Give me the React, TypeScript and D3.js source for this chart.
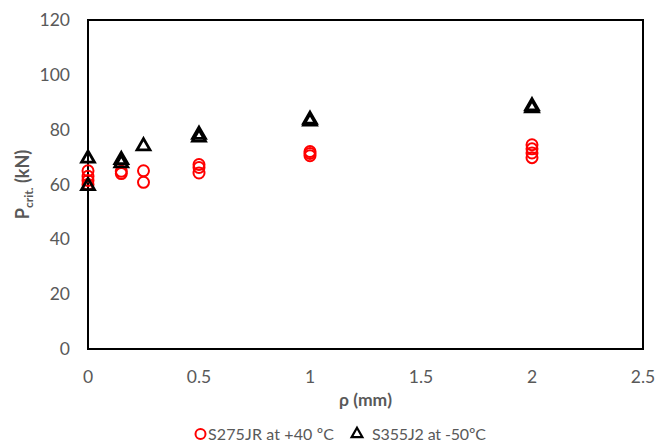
import React from "react";
import * as d3 from "d3";

const xTicks = [0, 0.5, 1, 1.5, 2, 2.5];
const yTicks = [0, 20, 40, 60, 80, 100, 120];

const s275X = [0, 0, 0, 0, 0.15, 0.15, 0.25, 0.25, 0.5, 0.5, 0.5, 1, 1, 1, 2, 2, 2, 2];
const s275Y = [65, 63, 61.5, 60, 64.8, 64, 65, 60.8, 67.3, 66.2, 64.2, 72, 71.3, 70.5, 74.5, 73, 71.5, 69.8];

const s355X = [0, 0, 0.15, 0.15, 0.25, 0.5, 0.5, 1, 1, 2, 2];
const s355Y = [69.5, 59.5, 69, 67.8, 74, 78.2, 77.2, 83.7, 83, 88.6, 87.9];

const W = 657, H = 443;
const M = { left: 88, right: 643, top: 20, bottom: 349 };

export default function App() {
  const x = d3.scaleLinear().domain([0, 2.5]).range([M.left, M.right]);
  const y = d3.scaleLinear().domain([0, 120]).range([M.bottom, M.top]);
  const font = "Lato, 'Open Sans', sans-serif";
  const tri = d3.symbol().type(d3.symbolTriangle).size(72)();
  return (
    <svg width={W} height={H} style={{ position: "absolute", left: 0, top: 0, background: "#fff" }}>
      <rect x={0} y={0} width={W} height={H} fill="#fff" />
      <rect x={M.left} y={M.top} width={M.right - M.left} height={M.bottom - M.top} fill="none" stroke="#000" strokeWidth={2} />
      {yTicks.map((t) => (
        <text key={"y" + t} x={70} y={y(t)} dy="0.35em" textAnchor="end" fontFamily={font} fontSize={17.5} fill="#595959">{t}</text>
      ))}
      {xTicks.map((t) => (
        <text key={"x" + t} x={x(t)} y={377} dy="0.35em" textAnchor="middle" fontFamily={font} fontSize={17.5} fill="#595959">{t}</text>
      ))}
      <text x={(M.left + M.right) / 2} y={406} textAnchor="middle" fontFamily={font} fontSize={17.5} fontWeight="bold" fill="#595959">ρ (mm)</text>
      <text transform={`translate(29, ${(M.top + M.bottom) / 2}) rotate(-90)`} textAnchor="middle" fontFamily={font} fontSize={18} fontWeight="bold" fill="#595959">
        P<tspan fontSize={12} dy="4">crit.</tspan><tspan dy="-4"> (kN)</tspan>
      </text>
      {s275X.map((v, i) => (
        <circle key={"c" + i} cx={x(v)} cy={y(s275Y[i])} r={5.5} fill="none" stroke="#FF0000" strokeWidth={2} />
      ))}
      {s355X.map((v, i) => (
        <path key={"t" + i} d={tri} transform={`translate(${x(v)},${y(s355Y[i])})`} fill="none" stroke="#000" strokeWidth={2.8} />
      ))}
      <circle cx={200.5} cy={434} r={5} fill="none" stroke="#FF0000" strokeWidth={2} />
      <text x={208} y={434} dy="0.35em" fontFamily={font} fontSize={16} fill="#595959" textLength={126} lengthAdjust="spacing">S275JR at +40 ºC</text>
      <path d={d3.symbol().type(d3.symbolTriangle).size(50)()} transform="translate(357,434)" fill="none" stroke="#000" strokeWidth={2.2} />
      <text x={372} y={434} dy="0.35em" fontFamily={font} fontSize={16} fill="#595959" textLength={114} lengthAdjust="spacing">S355J2 at -50ºC</text>
    </svg>
  );
}
